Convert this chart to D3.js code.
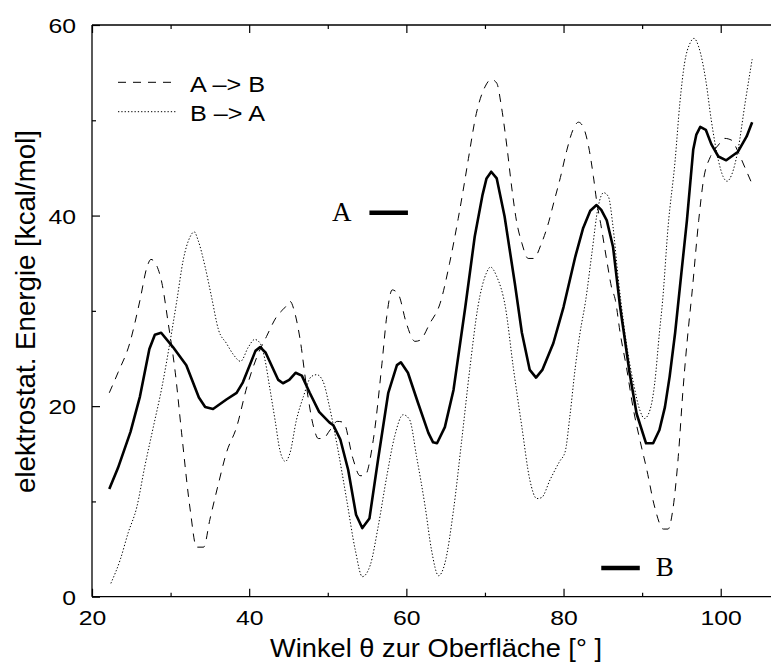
<!DOCTYPE html>
<html>
<head>
<meta charset="utf-8">
<script src="https://cdn.jsdelivr.net/npm/d3@7"></script>
<style>
  html, body { margin: 0; padding: 0; background: #fff; }
  svg { display: block; }
  text { font-family: "Liberation Sans", Arial, Helvetica, sans-serif; fill: #000; }
  text.serif { font-family: "Liberation Serif", "Times New Roman", serif; }
</style>
</head>
<body>
<svg id="chart" width="771" height="664"></svg>
<script>
// ---------- data ----------
const xTickValues = [20, 40, 60, 80, 100];
const xMinorTicks = [30, 50, 70, 90, 110];
const yTickValues = [0, 20, 40, 60];
const yMinorTicks = [10, 30, 50];

// mean (solid)
const solidAngles = [22.2,23.3,24.9,26.1,27.3,28.0,28.8,30.3,32.0,33.6,34.4,35.4,37.1,38.4,39.2,40.8,41.4,42.1,43.7,44.3,45.1,45.9,46.7,47.7,48.9,50.2,50.7,51.6,52.6,53.6,54.4,55.3,56.4,57.7,58.8,59.3,60.2,61.5,62.8,63.4,63.9,64.9,66.0,67.5,68.7,69.7,70.2,70.8,71.5,72.5,73.8,74.7,75.7,76.5,77.3,78.7,80.0,81.5,82.5,83.4,84.2,84.8,85.5,86.3,87.2,87.8,88.4,89.3,90.5,91.4,92.2,92.9,93.5,94.2,95.0,95.7,96.5,96.9,97.4,98.1,98.8,99.7,100.7,102.2,103.3,104.0];
const solidValues = [11.3,13.5,17.3,21.0,26.0,27.5,27.7,26.2,24.3,20.9,19.9,19.7,20.7,21.4,22.5,25.8,26.2,25.6,22.75,22.4,22.75,23.5,23.2,21.4,19.4,18.3,18.0,16.5,13.3,8.6,7.2,8.2,14.4,21.4,24.3,24.6,23.5,20.3,17.2,16.2,16.1,17.8,21.7,30.4,37.8,42.2,43.9,44.6,43.9,39.9,32.9,27.7,23.8,23.0,23.8,26.6,30.4,35.7,38.7,40.5,41.1,40.6,39.5,36.7,30.4,27.0,23.5,19.2,16.1,16.1,17.5,19.9,23.1,27.7,34.0,39.5,46.9,48.5,49.3,49.0,47.5,46.2,45.8,46.7,48.3,49.8];

// A -> B (dashed)
const abAngles = [22.2,23.3,24.8,26.1,27.0,27.5,28.2,28.9,29.7,30.6,31.4,32.5,33.3,34.2,35.0,36.1,37.1,38.4,39.7,41.0,42.2,43.5,44.6,45.2,45.8,46.5,47.3,48.2,48.8,49.4,50.3,51.2,52.0,53.2,54.1,54.7,55.8,56.9,57.5,58.2,59.0,60.0,61.1,61.7,63.0,64.3,65.5,66.6,67.3,67.9,68.9,70.0,70.8,71.5,72.1,72.8,73.4,74.0,74.7,75.5,76.2,77.2,78.0,78.8,79.6,80.4,81.2,81.9,82.5,83.2,83.8,84.2,84.8,85.5,86.1,86.6,87.2,88.0,88.9,89.7,90.6,91.6,92.7,93.3,93.9,94.6,95.2,95.9,96.3,97.2,97.8,98.7,99.7,100.5,101.4,102.2,103.1,104.0];
const abValues = [21.4,23.5,26.6,31.1,34.6,35.4,34.8,32.9,28.7,23.5,17.2,9.1,5.2,5.2,8.1,11.9,15.1,17.8,22.0,25.2,27.3,29.4,30.4,31.0,29.8,26.9,22.0,17.8,16.6,16.6,17.5,18.4,18.3,14.5,12.7,12.7,16.5,24.5,29.4,32.2,31.7,28.7,26.8,26.9,28.7,30.8,35.0,39.7,43.0,46.0,50.7,53.5,54.3,53.9,51.4,47.2,43.0,39.5,37.1,35.5,35.5,37.1,39.0,41.5,44.0,46.8,49.0,49.8,49.3,47.2,44.1,41.6,38.8,35.3,32.5,31.1,27.7,24.1,19.6,16.5,13.3,9.4,7.1,7.1,9.1,14.7,21.7,28.3,31.5,39.5,43.7,46.2,47.4,48.1,47.9,46.7,45.0,43.3];

// B -> A (dotted)
const baAngles = [22.4,23.6,24.6,25.7,26.7,27.8,28.9,29.9,30.8,31.6,32.5,33.0,33.5,34.4,35.2,36.1,37.1,38.0,38.9,39.9,40.7,41.4,42.0,42.6,43.3,43.9,44.6,45.2,46.0,46.9,47.9,48.6,49.4,50.2,51.3,52.4,53.5,54.4,55.4,56.4,57.5,58.5,59.6,60.4,61.3,62.4,63.2,64.1,64.9,66.0,67.0,68.1,69.1,70.2,70.7,71.5,72.6,73.6,74.7,75.7,76.6,77.2,78.3,79.5,80.2,80.8,81.5,82.1,82.8,83.6,84.4,85.1,85.7,86.3,86.9,87.3,88.0,88.9,89.7,90.3,91.0,91.6,92.2,92.6,93.3,94.2,94.8,95.4,96.1,96.6,97.2,98.1,98.8,99.7,100.3,100.8,101.4,102.2,103.1,104.0];
const baValues = [1.4,3.9,6.7,9.4,13.6,17.8,22.0,26.6,31.1,35.3,37.8,38.3,37.4,34.6,31.5,28.0,26.6,25.4,24.7,26.2,27.0,26.6,24.9,22.0,18.5,15.4,14.2,15.1,18.5,21.0,23.1,23.3,22.6,20.0,15.4,10.2,4.9,2.1,3.3,7.3,12.6,16.8,19.1,18.6,14.7,9.4,4.9,2.2,3.5,9.1,16.1,24.1,30.4,34.0,34.6,33.6,30.4,24.1,17.8,12.3,10.3,10.4,12.3,14.2,15.2,18.9,24.1,27.7,31.0,36.0,40.9,42.4,42.0,38.8,33.9,31.0,26.6,22.4,19.6,18.7,19.6,22.4,27.7,31.0,38.8,45.8,51.8,56.0,58.1,58.6,57.7,54.2,50.0,45.8,44.1,43.6,44.3,46.9,51.8,56.4];

// reference levels
const levelLabels = ["A", "B"];
const levelValues = [40.3, 3.0];
const levelFrom = [55.3, 84.8];
const levelTo = [60.2, 89.7];

const legendLabels = ["A \u2013> B", "B \u2013> A"];
const xTitle = "Winkel \u03b8 zur Oberfl\u00e4che [\u00b0 ]";
const yTitle = "elektrostat. Energie [kcal/mol]";

// ---------- chart ----------
const svg = d3.select("#chart");
const plotLeft = 92, plotBottom = 596.7, plotTop = 25;
const x = d3.scaleLinear().domain([20, 110]).range([plotLeft, plotLeft + 90 * 7.859]);
const y = d3.scaleLinear().domain([0, 60]).range([plotBottom, plotTop]);

svg.append("rect").attr("width", 771).attr("height", 664).attr("fill", "#fff");

// frame
const frame = svg.append("g").attr("stroke", "#000").attr("stroke-width", 1.3).attr("fill", "none");
frame.append("line").attr("x1", x(20)).attr("x2", x(110)).attr("y1", y(0)).attr("y2", y(0));
frame.append("line").attr("x1", x(20)).attr("x2", x(110)).attr("y1", y(60)).attr("y2", y(60));
frame.append("line").attr("x1", x(20)).attr("x2", x(20)).attr("y1", y(0)).attr("y2", y(60));

function styleAxis(g) {
  g.select(".domain").remove();
  g.selectAll(".tick line").attr("stroke", "#000").attr("stroke-width", 1.2);
}
svg.append("g").attr("transform", `translate(0,${plotBottom})`)
  .call(d3.axisBottom(x).tickValues(xTickValues).tickSizeInner(-8).tickSizeOuter(0).tickFormat(d3.format("d")))
  .call(styleAxis)
  .call(g => g.selectAll("text").attr("font-size", 21).attr("y", 13).attr("dy", "0.71em")
     .attr("transform", "scale(1.18,1)"));
svg.append("g").attr("transform", `translate(0,${plotBottom})`)
  .call(d3.axisBottom(x).tickValues(xMinorTicks).tickSizeInner(-4).tickSizeOuter(0).tickFormat(""))
  .call(styleAxis);
svg.append("g").attr("transform", `translate(0,${plotTop})`)
  .call(d3.axisTop(x).tickValues(xTickValues).tickSizeInner(-8).tickSizeOuter(0).tickFormat(""))
  .call(styleAxis);
svg.append("g").attr("transform", `translate(0,${plotTop})`)
  .call(d3.axisTop(x).tickValues(xMinorTicks).tickSizeInner(-4).tickSizeOuter(0).tickFormat(""))
  .call(styleAxis);
svg.append("g").attr("transform", `translate(${plotLeft},0)`)
  .call(d3.axisLeft(y).tickValues(yTickValues).tickSizeInner(-8).tickSizeOuter(0).tickFormat(d3.format("d")))
  .call(styleAxis)
  .call(g => g.selectAll("text").attr("font-size", 21).attr("x", -16 / 1.18).attr("dy", "0.36em")
     .attr("transform", "scale(1.18,1)"));
svg.append("g").attr("transform", `translate(${plotLeft},0)`)
  .call(d3.axisLeft(y).tickValues(yMinorTicks).tickSizeInner(-4).tickSizeOuter(0).tickFormat(""))
  .call(styleAxis);

// curves
svg.append("clipPath").attr("id", "plotclip")
  .append("rect").attr("x", x(20)).attr("y", y(60)).attr("width", x(110) - x(20)).attr("height", y(0) - y(60));

function series(angles, values) { return angles.map((a, i) => [a, values[i]]); }
const smooth = d3.line().x(d => x(d[0])).y(d => y(d[1])).curve(d3.curveMonotoneX);
const straight = d3.line().x(d => x(d[0])).y(d => y(d[1])).curve(d3.curveLinear);

const plot = svg.append("g").attr("clip-path", "url(#plotclip)");
plot.append("path").attr("d", smooth(series(baAngles, baValues)))
  .attr("fill", "none").attr("stroke", "#000").attr("stroke-width", 1).attr("stroke-dasharray", "1.3,2");
plot.append("path").attr("d", smooth(series(abAngles, abValues)))
  .attr("fill", "none").attr("stroke", "#000").attr("stroke-width", 1).attr("stroke-dasharray", "8,7");
plot.append("path").attr("d", straight(series(solidAngles, solidValues)))
  .attr("fill", "none").attr("stroke", "#000").attr("stroke-width", 2.6).attr("stroke-linejoin", "round");

// reference levels A, B
levelLabels.forEach((lab, i) => {
  svg.append("line")
    .attr("x1", x(levelFrom[i])).attr("x2", x(levelTo[i]))
    .attr("y1", y(levelValues[i])).attr("y2", y(levelValues[i]))
    .attr("stroke", "#000").attr("stroke-width", 4.5);
});
svg.append("text").attr("class", "serif").text(levelLabels[0])
  .attr("x", x(levelFrom[0]) - 18).attr("y", y(levelValues[0]) + 8)
  .attr("text-anchor", "end").attr("font-size", 27);
svg.append("text").attr("class", "serif").text(levelLabels[1])
  .attr("x", x(levelTo[1]) + 16).attr("y", y(levelValues[1]) + 8)
  .attr("text-anchor", "start").attr("font-size", 27);

// legend
const legendDash = ["8,7", "1.3,2"];
const legendY = [82.3, 111.7];
legendLabels.forEach((lab, i) => {
  svg.append("line").attr("x1", 118).attr("x2", 176).attr("y1", legendY[i]).attr("y2", legendY[i])
    .attr("stroke", "#000").attr("stroke-width", 1).attr("stroke-dasharray", legendDash[i]);
  svg.append("text").text(lab).attr("x", 190).attr("y", legendY[i] + 9.5)
    .attr("font-size", 22).attr("textLength", 75).attr("lengthAdjust", "spacingAndGlyphs");
});

// axis titles
svg.append("text").text(xTitle)
  .attr("x", 270).attr("y", 657).attr("font-size", 26)
  .attr("textLength", 332).attr("lengthAdjust", "spacingAndGlyphs");
svg.append("text").text(yTitle)
  .attr("transform", `translate(35,${311.5}) rotate(-90)`)
  .attr("text-anchor", "middle").attr("font-size", 28)
  .attr("textLength", 363).attr("lengthAdjust", "spacingAndGlyphs");
</script>
</body>
</html>
